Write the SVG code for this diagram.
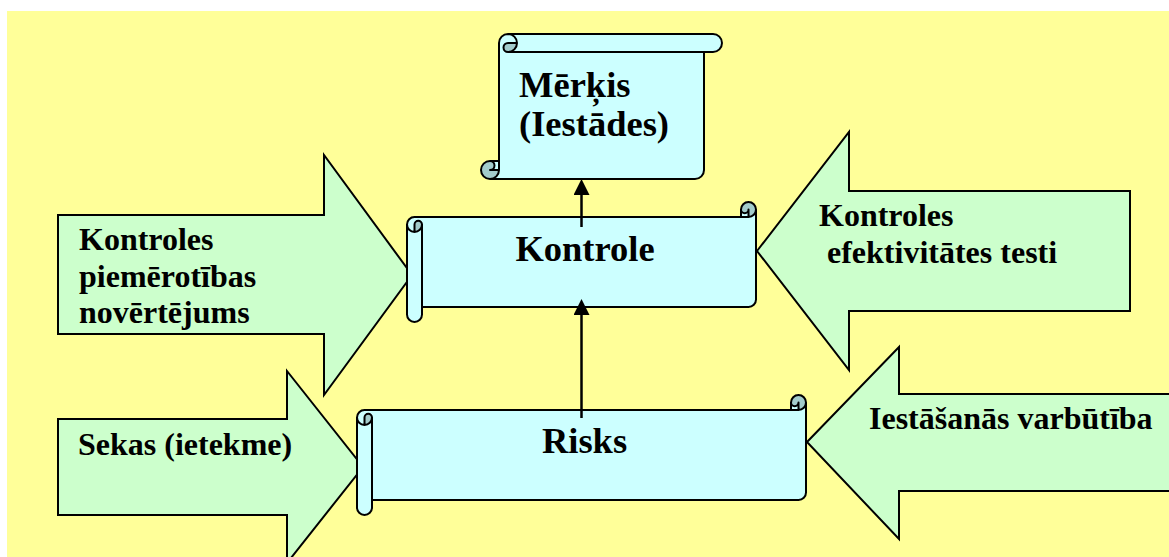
<svg xmlns="http://www.w3.org/2000/svg" width="1169" height="557" viewBox="0 0 1169 557">
  <style>
    .arrow { fill: #CCFFCC; stroke: #000; stroke-width: 2; stroke-linejoin: miter; }
    .scroll-fill { fill: #CCFFFF; stroke: none; }
    .scroll-dark { fill: #A3CCCC; stroke: none; }
    .scroll-line { fill: none; stroke: #000; stroke-width: 2; stroke-linejoin: round; }
    .big { font-family: "Liberation Serif", "Times New Roman", serif; font-weight: bold; font-size: 36.5px; fill: #000; }
    .small { font-family: "Liberation Serif", "Times New Roman", serif; font-weight: bold; font-size: 32px; fill: #000; }
    .link { stroke: #000; stroke-width: 2.5; fill: none; }
  </style>
  <defs>
    <marker id="head" markerUnits="userSpaceOnUse" markerWidth="16" markerHeight="16" viewBox="0 0 15 15" refX="0" refY="7.5" orient="auto">
      <path d="M0,0 L15,7.5 L0,15 Z" fill="#000"/>
    </marker>
  </defs>

  <!-- page background -->
  <rect x="0" y="0" width="1169" height="557" fill="#FFFFFF"/>
  <rect x="7" y="11" width="1162" height="546" fill="#FFFF99"/>

  <!-- block arrows feeding the scrolls -->
  <g id="arrow-piemerotiba">
    <polygon class="arrow" points="58,215 324,215 324,155 412,275 324,395 324,334 58,334"/>
    <text class="small" x="79" y="250">Kontroles</text>
    <text class="small" x="79" y="286.5">piemērotības</text>
    <text class="small" x="79" y="323">novērtējums</text>
  </g>
  <g id="arrow-efektivitate">
    <polygon class="arrow" points="757,251 849,132 849,191 1130,191 1130,311 849,311 849,370"/>
    <text class="small" x="819" y="226">Kontroles</text>
    <text class="small" x="819" y="263" xml:space="preserve"> efektivitātes testi</text>
  </g>
  <g id="arrow-sekas">
    <polygon class="arrow" points="58,419 287,419 287,371 363,467 287,563 287,515 58,515"/>
    <text class="small" x="78" y="455">Sekas (ietekme)</text>
  </g>
  <g id="arrow-varbutiba">
    <polygon class="arrow" points="807,442 899,347 899,394 1180,394 1180,491 899,491 899,539"/>
    <text class="small" x="869" y="429">Iestāšanās varbūtība</text>
  </g>

  <!-- vertical scroll: goal -->
  <g id="node-merkis">
    <path class="scroll-fill" d="M490,179 A9,9 0 0 0 499,170 L490,170 A4.5,4.5 0 0 0 490,161 L499,161 L499,43 A9,9 0 0 1 508,34 L713,34 A9,9 0 0 1 713,52 L704,52 L704,170 A9,9 0 0 1 695,179 Z M517,43 A9,9 0 0 1 508,52 A4.5,4.5 0 0 1 508,43 Z"/>
    <path class="scroll-dark" d="M517,43 A9,9 0 0 1 508,52 A4.5,4.5 0 0 1 508,43 Z M499,170 A9,9 0 1 1 490,161 A4.5,4.5 0 0 1 490,170 Z"/>
    <path class="scroll-line" d="M499,161 L499,43 A9,9 0 0 1 508,34 L713,34 A9,9 0 0 1 713,52 L704,52 L704,170 A9,9 0 0 1 695,179 L490,179 A9,9 0 0 1 490,161 Z M508,34 A9,9 0 0 1 508,52 A4.5,4.5 0 0 1 508,43 L517,43 M704,52 L508,52 M490,161 A4.5,4.5 0 0 1 490,170 L499,170 M490,179 A9,9 0 0 0 499,170 L499,161"/>
    <text class="big" x="519" y="97">Mērķis</text>
    <text class="big" x="519" y="136">(Iestādes)</text>
  </g>

  <!-- horizontal scroll: control -->
  <g id="node-kontrole">
    <path class="scroll-fill" d="M756,209.5 A7.5,7.5 0 0 1 748.5,217 L748.5,209.5 A3.75,3.75 0 0 1 741,209.5 L741,217 L414.5,217 A7.5,7.5 0 0 0 407,224.5 L407,314.5 A7.5,7.5 0 0 0 422,314.5 L422,307 L748.5,307 A7.5,7.5 0 0 0 756,299.5 Z M414.5,232 A7.5,7.5 0 0 0 422,224.5 A3.75,3.75 0 0 0 414.5,224.5 Z"/>
    <path class="scroll-dark" d="M414.5,232 A7.5,7.5 0 0 0 422,224.5 A3.75,3.75 0 0 0 414.5,224.5 Z M748.5,217 A7.5,7.5 0 1 0 741,209.5 A3.75,3.75 0 0 0 748.5,209.5 Z"/>
    <path class="scroll-line" d="M407,224.5 A7.5,7.5 0 0 1 414.5,217 L741,217 L741,209.5 A7.5,7.5 0 0 1 756,209.5 L756,299.5 A7.5,7.5 0 0 1 748.5,307 L422,307 L422,314.5 A7.5,7.5 0 0 1 407,314.5 Z M741,217 L748.5,217 A7.5,7.5 0 0 0 756,209.5 M748.5,217 L748.5,209.5 A3.75,3.75 0 0 1 741,209.5 M414.5,232 L414.5,224.5 A3.75,3.75 0 0 1 422,224.5 A7.5,7.5 0 0 1 407,224.5 M422,224.5 L422,307"/>
    <text class="big" x="585" y="261" text-anchor="middle">Kontrole</text>
  </g>

  <!-- horizontal scroll: risk -->
  <g id="node-risks">
    <path class="scroll-fill" d="M806,402.5 A7.5,7.5 0 0 1 798.5,410 L798.5,402.5 A3.75,3.75 0 0 1 791,402.5 L791,410 L364.5,410 A7.5,7.5 0 0 0 357,417.5 L357,507.5 A7.5,7.5 0 0 0 372,507.5 L372,500 L798.5,500 A7.5,7.5 0 0 0 806,492.5 Z M364.5,425 A7.5,7.5 0 0 0 372,417.5 A3.75,3.75 0 0 0 364.5,417.5 Z"/>
    <path class="scroll-dark" d="M364.5,425 A7.5,7.5 0 0 0 372,417.5 A3.75,3.75 0 0 0 364.5,417.5 Z M798.5,410 A7.5,7.5 0 1 0 791,402.5 A3.75,3.75 0 0 0 798.5,402.5 Z"/>
    <path class="scroll-line" d="M357,417.5 A7.5,7.5 0 0 1 364.5,410 L791,410 L791,402.5 A7.5,7.5 0 0 1 806,402.5 L806,492.5 A7.5,7.5 0 0 1 798.5,500 L372,500 L372,507.5 A7.5,7.5 0 0 1 357,507.5 Z M791,410 L798.5,410 A7.5,7.5 0 0 0 806,402.5 M798.5,410 L798.5,402.5 A3.75,3.75 0 0 1 791,402.5 M364.5,425 L364.5,417.5 A3.75,3.75 0 0 1 372,417.5 A7.5,7.5 0 0 1 357,417.5 M372,417.5 L372,500"/>
    <text class="big" x="584.5" y="453" text-anchor="middle">Risks</text>
  </g>

  <!-- connectors: risk -> control -> goal -->
  <g id="connectors">
    <line class="link" x1="581.5" y1="418" x2="581.5" y2="315" marker-end="url(#head)"/>
    <line class="link" x1="581.5" y1="227" x2="581.5" y2="195" marker-end="url(#head)"/>
  </g>
</svg>
